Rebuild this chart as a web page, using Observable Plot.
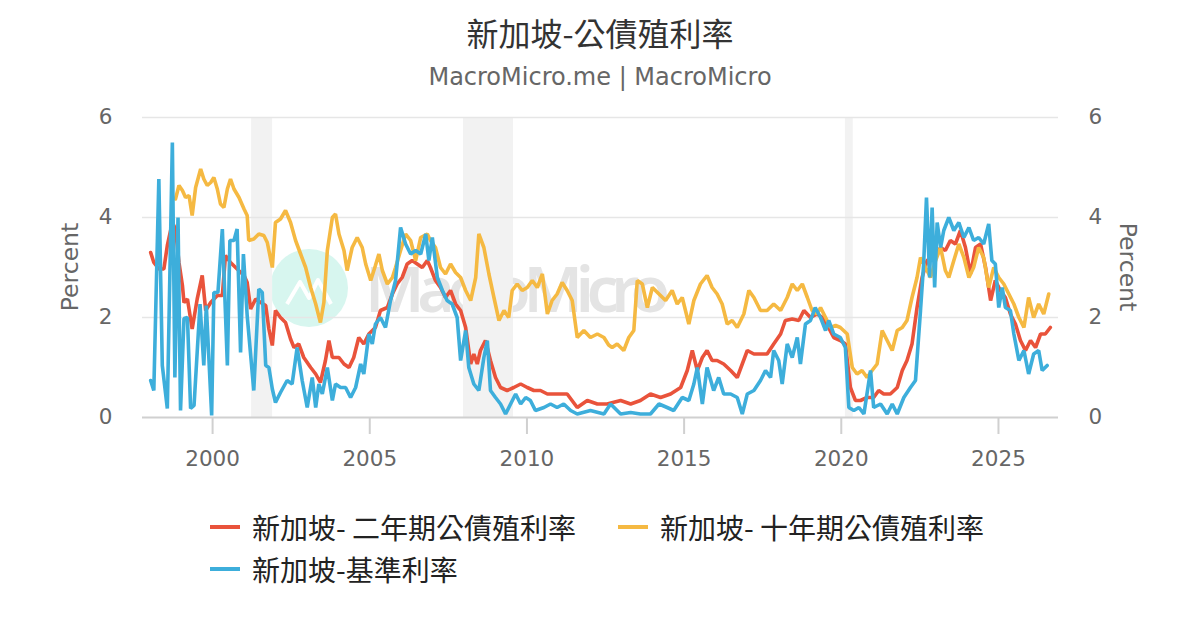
<!DOCTYPE html>
<html>
<head>
<meta charset="utf-8">
<script src="https://cdn.jsdelivr.net/npm/d3@7"></script>
<script src="https://cdn.jsdelivr.net/npm/@observablehq/plot@0.6"></script>
<style>
  html, body { margin: 0; padding: 0; background: #fff; }
  #root { position: relative; width: 1200px; height: 630px; overflow: hidden; font-family: "DejaVu Sans", "Noto Sans CJK TC", sans-serif; }
  .title { position: absolute; top: 10px; left: 0; width: 1200px; text-align: center; font-family: "Noto Sans CJK TC", sans-serif; font-size: 32px; color: #333; line-height: 44px; }
  .subtitle { position: absolute; top: 62px; left: 0; width: 1200px; text-align: center; font-family: "DejaVu Sans", sans-serif; font-size: 24px; color: #666; line-height: 30px; }
  #wm { position: absolute; left: 0; top: 0; z-index: 0; }
  #chart { position: absolute; left: 0; top: 100px; z-index: 1; }
  .ylab { position: absolute; z-index: 2; font-family: "DejaVu Sans", sans-serif; font-size: 23.5px; color: #666; white-space: nowrap; }
  .legend { position: absolute; z-index: 2; font-family: "Noto Sans CJK TC", sans-serif; font-size: 28px; color: #222; display: flex; align-items: center; white-space: nowrap; }
  .sw { width: 30px; height: 4px; margin-right: 12px; }
</style>
</head>
<body>
<div id="root">
  <svg id="wm" width="1200" height="630">
    <circle cx="309" cy="288" r="39" fill="#d7f6ef"></circle>
    <polyline points="287,304 300,282 309,298 318,280 331,304" fill="none" stroke="#fff" stroke-width="4" stroke-linejoin="round"></polyline>
    <text x="365" y="312" textLength="305" font-family="Noto Sans, sans-serif" font-weight="600" font-size="64" fill="#e4e4e4">MacroMicro</text>
  </svg>
  <div class="title">新加坡-公債殖利率</div>
  <div class="subtitle">MacroMicro.me | MacroMicro</div>
  <div id="chart"></div>
  <div class="ylab" style="left:70px; top:267px; transform: translate(-50%,-50%) rotate(-90deg);">Percent</div>
  <div class="ylab" style="left:1128px; top:267px; transform: translate(-50%,-50%) rotate(90deg);">Percent</div>
  <div id="legend"></div>
</div>
<script>
// ---- Data ----
const xTicks = [2000, 2005, 2010, 2015, 2020, 2025];
const yTicks = [0, 2, 4, 6];
const recessions = [[2001.24, 2001.91], [2007.98, 2009.57], [2020.13, 2020.38]];

const seriesNames = ["新加坡- 二年期公債殖利率", "新加坡- 十年期公債殖利率", "新加坡-基準利率"];
const seriesColors = ["#e9533b", "#f5b942", "#3daedb"];

const twoYear = [
[1998.03,3.3],[1998.13,3.1],[1998.29,2.97],[1998.45,2.97],[1998.56,3.44],[1998.72,3.9],[1998.82,3.77],[1998.93,3.1],[1999.04,2.64],[1999.09,2.3],[1999.2,2.37],[1999.35,1.77],[1999.51,2.37],[1999.67,2.84],[1999.78,2.14],[1999.94,2.3],[2000.15,2.44],[2000.31,2.44],[2000.41,3.24],[2000.57,3.1],[2000.78,2.97],[2001.0,2.84],[2001.1,2.7],[2001.21,2.17],[2001.37,2.37],[2001.53,2.3],[2001.69,2.24],[2001.79,1.77],[2001.9,1.44],[2002.0,2.14],[2002.16,2.0],[2002.32,1.9],[2002.48,1.57],[2002.59,1.4],[2002.74,1.47],[2002.9,1.2],[2003.12,1.0],[2003.28,0.87],[2003.43,0.7],[2003.59,1.14],[2003.7,1.54],[2003.81,1.2],[2004.02,1.2],[2004.18,1.07],[2004.34,1.0],[2004.49,1.2],[2004.65,1.6],[2004.81,1.47],[2004.97,1.67],[2005.18,1.8],[2005.34,2.14],[2005.56,2.2],[2005.72,2.47],[2005.87,2.67],[2006.03,2.8],[2006.19,3.07],[2006.35,3.14],[2006.51,3.07],[2006.67,3.0],[2006.83,3.14],[2006.93,3.0],[2007.09,2.74],[2007.25,2.6],[2007.41,2.4],[2007.57,2.54],[2007.73,2.27],[2007.89,2.14],[2008.05,1.8],[2008.21,1.07],[2008.31,1.27],[2008.42,1.07],[2008.52,1.34],[2008.68,1.54],[2008.84,1.14],[2009.0,0.8],[2009.16,0.6],[2009.37,0.54],[2009.58,0.6],[2009.8,0.67],[2010.01,0.6],[2010.22,0.54],[2010.43,0.54],[2010.65,0.47],[2010.96,0.47],[2011.28,0.47],[2011.6,0.2],[2011.92,0.34],[2012.24,0.27],[2012.55,0.27],[2012.98,0.34],[2013.3,0.27],[2013.61,0.34],[2013.93,0.47],[2014.25,0.4],[2014.57,0.47],[2014.89,0.6],[2015.1,0.94],[2015.26,1.34],[2015.42,0.94],[2015.58,1.2],[2015.73,1.34],[2015.89,1.14],[2016.05,1.14],[2016.26,1.07],[2016.48,0.94],[2016.69,0.8],[2016.85,1.07],[2017.01,1.34],[2017.22,1.27],[2017.43,1.27],[2017.64,1.27],[2017.85,1.47],[2018.07,1.67],[2018.22,1.94],[2018.44,1.97],[2018.65,1.94],[2018.81,2.14],[2019.02,2.0],[2019.23,2.07],[2019.4,2.0],[2019.55,1.85],[2019.76,1.6],[2019.97,1.54],[2020.13,1.47],[2020.29,0.6],[2020.45,0.34],[2020.61,0.34],[2020.82,0.4],[2021.03,0.4],[2021.19,0.54],[2021.35,0.47],[2021.56,0.47],[2021.78,0.6],[2021.94,0.94],[2022.09,1.14],[2022.25,1.47],[2022.41,2.2],[2022.57,2.8],[2022.73,3.14],[2022.94,3.2],[2023.16,3.4],[2023.31,3.34],[2023.47,3.54],[2023.63,3.47],[2023.79,3.74],[2023.95,3.4],[2024.11,2.87],[2024.27,3.4],[2024.43,3.47],[2024.59,3.0],[2024.75,2.34],[2024.9,2.74],[2025.06,2.54],[2025.22,2.4],[2025.38,2.07],[2025.54,1.87],[2025.7,1.54],[2025.86,1.34],[2026.02,1.54],[2026.18,1.4],[2026.34,1.67],[2026.49,1.67],[2026.65,1.8]
];

const tenYear = [
[1998.82,4.37],[1998.93,4.64],[1999.04,4.54],[1999.14,4.4],[1999.25,4.44],[1999.35,4.04],[1999.46,4.6],[1999.62,4.97],[1999.72,4.77],[1999.83,4.64],[1999.94,4.7],[2000.04,4.8],[2000.15,4.57],[2000.25,4.27],[2000.36,4.2],[2000.47,4.57],[2000.57,4.77],[2000.68,4.57],[2000.84,4.4],[2001.0,4.17],[2001.1,4.04],[2001.15,3.54],[2001.31,3.57],[2001.47,3.67],[2001.63,3.64],[2001.74,3.5],[2001.9,3.0],[2002.0,3.9],[2002.16,3.97],[2002.32,4.14],[2002.48,3.9],[2002.64,3.54],[2002.8,3.27],[2002.96,3.0],[2003.12,2.6],[2003.28,2.27],[2003.43,1.9],[2003.54,2.3],[2003.65,3.34],[2003.81,4.0],[2003.91,4.07],[2004.02,3.67],[2004.18,3.34],[2004.28,2.94],[2004.44,3.4],[2004.6,3.6],[2004.76,3.4],[2004.87,3.07],[2005.03,2.74],[2005.18,3.04],[2005.29,3.27],[2005.4,2.94],[2005.56,2.67],[2005.72,2.8],[2005.82,3.0],[2005.98,3.34],[2006.14,3.67],[2006.3,3.54],[2006.46,3.14],[2006.62,3.6],[2006.83,3.67],[2006.93,3.54],[2007.09,3.4],[2007.25,3.0],[2007.41,2.87],[2007.57,3.07],[2007.73,2.9],[2007.89,2.8],[2008.05,2.54],[2008.21,2.34],[2008.37,2.8],[2008.47,3.67],[2008.63,3.4],[2008.79,2.87],[2008.95,2.4],[2009.11,1.94],[2009.27,2.14],[2009.42,2.0],[2009.53,2.54],[2009.69,2.67],[2009.85,2.54],[2010.01,2.6],[2010.17,2.74],[2010.33,2.6],[2010.49,2.87],[2010.65,2.07],[2010.8,2.34],[2010.96,2.47],[2011.12,2.7],[2011.28,2.54],[2011.44,2.34],[2011.6,1.6],[2011.81,1.74],[2012.02,1.6],[2012.24,1.67],[2012.45,1.6],[2012.6,1.45],[2012.71,1.4],[2012.87,1.47],[2013.08,1.34],[2013.24,1.6],[2013.4,1.74],[2013.51,2.74],[2013.67,2.67],[2013.83,2.2],[2013.99,2.6],[2014.2,2.47],[2014.41,2.34],[2014.62,2.54],[2014.78,2.27],[2014.94,2.4],[2015.15,1.87],[2015.31,2.34],[2015.52,2.67],[2015.73,2.84],[2015.89,2.6],[2016.05,2.47],[2016.21,2.27],[2016.37,1.87],[2016.53,1.94],[2016.69,1.8],[2016.9,2.07],[2017.06,2.54],[2017.22,2.4],[2017.43,2.14],[2017.64,2.14],[2017.85,2.27],[2018.07,2.14],[2018.28,2.4],[2018.44,2.67],[2018.6,2.54],[2018.76,2.67],[2018.92,2.4],[2019.07,2.14],[2019.23,2.07],[2019.34,2.2],[2019.5,2.0],[2019.66,1.8],[2019.82,1.84],[2019.97,1.8],[2020.19,1.67],[2020.35,1.0],[2020.5,0.87],[2020.66,0.94],[2020.82,0.8],[2020.98,0.94],[2021.14,1.07],[2021.3,1.74],[2021.46,1.54],[2021.62,1.34],[2021.78,1.74],[2021.94,1.8],[2022.09,1.94],[2022.25,2.4],[2022.41,2.8],[2022.52,3.2],[2022.68,3.0],[2022.84,2.8],[2023.0,3.14],[2023.16,3.4],[2023.31,2.94],[2023.42,2.8],[2023.58,3.14],[2023.74,3.47],[2023.9,3.2],[2024.06,2.8],[2024.21,3.0],[2024.37,3.4],[2024.53,3.2],[2024.69,2.6],[2024.85,3.0],[2025.01,2.8],[2025.17,2.67],[2025.33,2.47],[2025.49,2.27],[2025.65,2.0],[2025.81,1.8],[2025.96,2.4],[2026.12,2.0],[2026.28,2.27],[2026.44,2.07],[2026.6,2.47]
];

const policyRate = [
[1998.03,0.74],[1998.13,0.54],[1998.29,4.77],[1998.4,1.04],[1998.56,0.18],[1998.72,5.5],[1998.8,0.8],[1998.9,4.0],[1998.98,0.14],[1999.09,1.98],[1999.2,2.0],[1999.3,0.18],[1999.41,0.24],[1999.6,2.27],[1999.72,1.04],[1999.8,2.24],[1999.97,0.04],[2000.04,2.5],[2000.17,2.5],[2000.31,3.77],[2000.47,1.04],[2000.55,3.54],[2000.68,3.54],[2000.78,3.77],[2000.89,1.3],[2000.98,3.27],[2001.1,2.04],[2001.31,0.54],[2001.47,2.57],[2001.58,2.5],[2001.69,1.04],[2001.79,1.0],[2001.9,0.57],[2002.0,0.3],[2002.16,0.5],[2002.37,0.74],[2002.53,0.67],[2002.69,1.4],[2002.85,0.74],[2003.01,0.2],[2003.17,0.8],[2003.28,0.2],[2003.38,0.67],[2003.49,0.47],[2003.65,1.0],[2003.81,0.34],[2003.91,0.67],[2004.07,0.6],[2004.23,0.6],[2004.39,0.4],[2004.55,0.6],[2004.71,1.07],[2004.81,0.87],[2004.97,1.67],[2005.08,1.47],[2005.18,1.87],[2005.34,2.0],[2005.5,1.8],[2005.66,2.34],[2005.82,2.74],[2005.98,3.8],[2006.14,3.47],[2006.3,3.27],[2006.46,3.34],[2006.62,3.27],[2006.78,3.67],[2006.88,3.14],[2006.99,3.6],[2007.15,2.8],[2007.31,2.54],[2007.46,2.34],[2007.62,2.27],[2007.78,2.0],[2007.89,1.14],[2008.05,1.74],[2008.15,1.0],[2008.31,0.67],[2008.47,0.54],[2008.63,1.2],[2008.74,1.54],[2008.84,0.54],[2009.0,0.4],[2009.16,0.27],[2009.32,0.07],[2009.48,0.27],[2009.64,0.47],[2009.8,0.27],[2009.96,0.4],[2010.11,0.34],[2010.27,0.14],[2010.54,0.2],[2010.75,0.27],[2010.96,0.2],[2011.17,0.27],[2011.39,0.14],[2011.6,0.07],[2012.02,0.14],[2012.45,0.07],[2012.66,0.27],[2012.98,0.07],[2013.3,0.1],[2013.61,0.07],[2013.93,0.07],[2014.2,0.27],[2014.46,0.2],[2014.67,0.14],[2014.94,0.4],[2015.15,0.34],[2015.31,0.67],[2015.42,1.0],[2015.58,0.27],[2015.73,1.0],[2015.94,0.54],[2016.1,0.8],[2016.26,0.47],[2016.48,0.47],[2016.69,0.4],[2016.85,0.07],[2017.01,0.47],[2017.22,0.54],[2017.43,0.74],[2017.59,0.94],[2017.75,0.8],[2017.85,1.34],[2018.01,1.14],[2018.12,0.67],[2018.28,1.47],[2018.44,1.2],[2018.6,1.6],[2018.7,1.07],[2018.86,1.87],[2019.02,1.94],[2019.17,2.2],[2019.34,2.0],[2019.5,1.74],[2019.6,1.94],[2019.76,1.67],[2019.97,1.6],[2020.13,1.4],[2020.24,0.2],[2020.4,0.14],[2020.56,0.2],[2020.72,0.07],[2020.93,0.94],[2021.03,0.2],[2021.25,0.27],[2021.46,0.07],[2021.62,0.27],[2021.78,0.07],[2021.99,0.4],[2022.2,0.6],[2022.36,0.74],[2022.52,2.14],[2022.62,3.07],[2022.71,4.4],[2022.81,2.8],[2022.89,4.2],[2022.97,2.6],[2023.05,3.9],[2023.16,3.4],[2023.26,3.74],[2023.42,4.0],[2023.58,3.74],[2023.74,3.9],[2023.9,3.6],[2024.06,3.8],[2024.21,3.54],[2024.37,3.6],[2024.53,3.47],[2024.69,3.87],[2024.79,3.14],[2024.9,3.07],[2025.01,2.2],[2025.12,2.6],[2025.22,2.2],[2025.38,2.14],[2025.49,1.67],[2025.65,1.14],[2025.81,1.34],[2025.96,0.87],[2026.12,1.27],[2026.28,1.34],[2026.39,0.94],[2026.55,1.04]
];

const allSeries = [twoYear, tenYear, policyRate];

// ---- Chart ----
const chart = Plot.plot({
  width: 1200,
  height: 380,
  marginTop: 17,
  marginBottom: 63,
  marginLeft: 142,
  marginRight: 142,
  style: { background: "transparent", fontFamily: "DejaVu Sans, sans-serif", overflow: "visible" },
  x: { type: "linear", domain: [1997.77, 2026.91] },
  y: { domain: [0, 6] },
  marks: [
    Plot.rect(recessions, { x1: d => d[0], x2: d => d[1], fill: "#f2f2f2" }),
    Plot.gridY(yTicks.filter(t => t > 0), { stroke: "#e6e6e6", strokeOpacity: 1, strokeWidth: 1.5 }),
    Plot.axisX(xTicks, { tickSize: 17, tickPadding: 16, stroke: "#d0d0d0", strokeWidth: 2, fill: "#666", fontSize: 21.5, tickFormat: d => String(d), label: null }),
    Plot.axisY(yTicks, { anchor: "left", tickSize: 0, tickPadding: 30, fill: "#666", fontSize: 21.5, tickFormat: d => String(d), label: null }),
    Plot.axisY(yTicks, { anchor: "right", tickSize: 0, tickPadding: 30, fill: "#666", fontSize: 21.5, tickFormat: d => String(d), label: null }),
    ...allSeries.map((s, i) => Plot.line(s, { x: d => d[0], y: d => d[1], stroke: seriesColors[i], strokeWidth: 3.6, strokeLinejoin: "miter" })),
    Plot.ruleY([0], { stroke: "#d0d0d0", strokeWidth: 2 })
  ]
});
document.getElementById("chart").appendChild(chart);

// ---- Legend ----
const legendPos = [[210, 527], [618, 527], [210, 569]];
const legend = document.getElementById("legend");
seriesNames.forEach((name, i) => {
  const item = document.createElement("div");
  item.className = "legend";
  item.style.left = legendPos[i][0] + "px";
  item.style.top = (legendPos[i][1] - 20) + "px";
  item.style.height = "40px";
  const sw = document.createElement("div");
  sw.className = "sw";
  sw.style.background = seriesColors[i];
  const tx = document.createElement("span");
  tx.textContent = name;
  item.appendChild(sw);
  item.appendChild(tx);
  legend.appendChild(item);
});
</script>
</body>
</html>
